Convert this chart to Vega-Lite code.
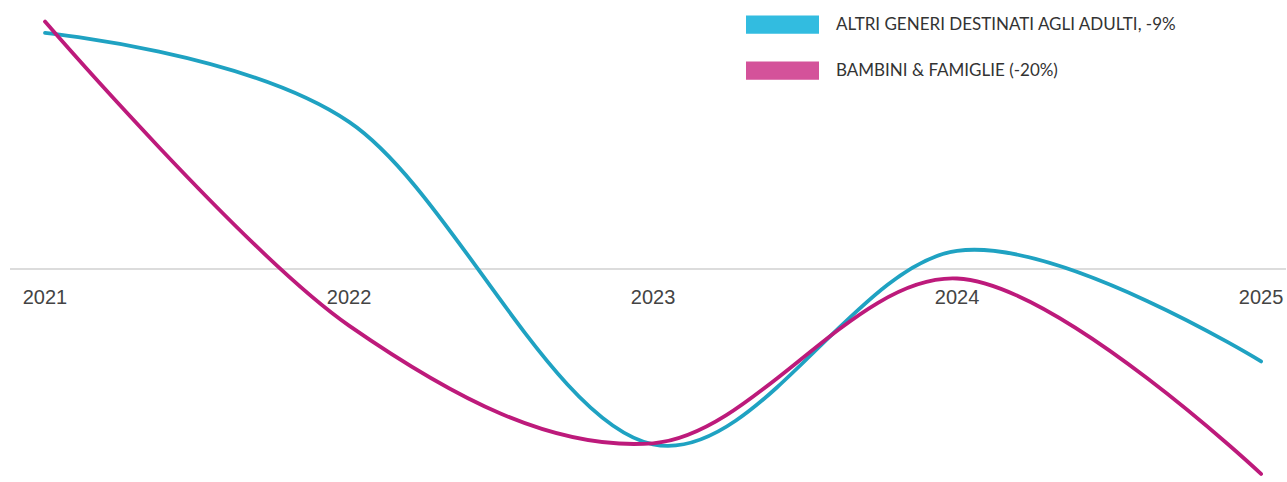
{
  "$schema": "https://vega.github.io/schema/vega-lite/v6.json",
  "width": 1287,
  "height": 482,
  "autosize": {"type": "fit", "contains": "padding"},
  "padding": 0,
  "background": "#ffffff",
  "config": {"view": {"stroke": null}},
  "data": {
    "values": [
      {"anno": 2021, "serie": "ALTRI GENERI DESTINATI AGLI ADULTI, -9%", "valore": 23.1},
      {"anno": 2022, "serie": "ALTRI GENERI DESTINATI AGLI ADULTI, -9%", "valore": 14.4},
      {"anno": 2023, "serie": "ALTRI GENERI DESTINATI AGLI ADULTI, -9%", "valore": -17.1},
      {"anno": 2024, "serie": "ALTRI GENERI DESTINATI AGLI ADULTI, -9%", "valore": 1.8},
      {"anno": 2025, "serie": "ALTRI GENERI DESTINATI AGLI ADULTI, -9%", "valore": -9},
      {"anno": 2021, "serie": "BAMBINI & FAMIGLIE (-20%)", "valore": 24.2},
      {"anno": 2022, "serie": "BAMBINI & FAMIGLIE (-20%)", "valore": -5.5},
      {"anno": 2023, "serie": "BAMBINI & FAMIGLIE (-20%)", "valore": -17.0},
      {"anno": 2024, "serie": "BAMBINI & FAMIGLIE (-20%)", "valore": -0.9},
      {"anno": 2025, "serie": "BAMBINI & FAMIGLIE (-20%)", "valore": -20}
    ]
  },
  "layer": [
    {
      "mark": {"type": "rule", "stroke": "#dcdcdc", "strokeWidth": 1.5},
      "encoding": {
        "x": {"datum": 2020.885, "type": "quantitative",
              "scale": {"domain": [2020.852, 2025.082], "nice": false, "zero": false}, "axis": null},
        "x2": {"datum": 2025.082},
        "y": {"datum": 0, "type": "quantitative",
              "scale": {"domain": [-20.49, 26.31], "nice": false, "zero": false}, "axis": null}
      }
    },
    {
      "transform": [{"filter": "datum.serie === 'ALTRI GENERI DESTINATI AGLI ADULTI, -9%'"}],
      "mark": {"type": "line", "interpolate": "cardinal", "strokeWidth": 3.8, "strokeCap": "round", "stroke": "#1fa2c2"},
      "encoding": {
        "x": {"field": "anno", "type": "quantitative"},
        "y": {"field": "valore", "type": "quantitative"}
      }
    },
    {
      "transform": [{"filter": "datum.serie === 'BAMBINI & FAMIGLIE (-20%)'"}],
      "mark": {"type": "line", "interpolate": "cardinal", "strokeWidth": 3.8, "strokeCap": "round", "stroke": "#bd1a7b"},
      "encoding": {
        "x": {"field": "anno", "type": "quantitative"},
        "y": {"field": "valore", "type": "quantitative"}
      }
    },
    {
      "transform": [{"filter": "datum.serie === 'BAMBINI & FAMIGLIE (-20%)'"}],
      "mark": {"type": "text", "font": "Liberation Sans", "fontSize": 20, "fill": "#444444", "baseline": "alphabetic", "align": "center", "dy": 35},
      "encoding": {
        "x": {"field": "anno", "type": "quantitative"},
        "y": {"datum": 0, "type": "quantitative"},
        "text": {"field": "anno", "type": "nominal"}
      }
    },
    {
      "mark": {"type": "point", "filled": true, "size": 0},
      "encoding": {
        "x": {"field": "anno", "type": "quantitative"},
        "y": {"field": "valore", "type": "quantitative"},
        "fill": {"field": "serie", "type": "nominal",
                 "scale": {"domain": ["ALTRI GENERI DESTINATI AGLI ADULTI, -9%", "BAMBINI & FAMIGLIE (-20%)"],
                           "range": ["#32bce0", "#d4529a"]},
                 "legend": {
                   "title": null,
                   "orient": "none",
                   "legendX": 746,
                   "legendY": -12,
                   "symbolType": "M-1,-0.25H1V0.25H-1Z",
                   "symbolSize": 5329,
                   "symbolStrokeWidth": 0,
                   "symbolOpacity": 1,
                   "labelFont": "Lato",
                   "labelFontSize": 17,
                   "labelColor": "#333333",
                   "labelOffset": 17,
                   "labelLimit": 500,
                   "rowPadding": -1
                 }}
      }
    }
  ]
}
